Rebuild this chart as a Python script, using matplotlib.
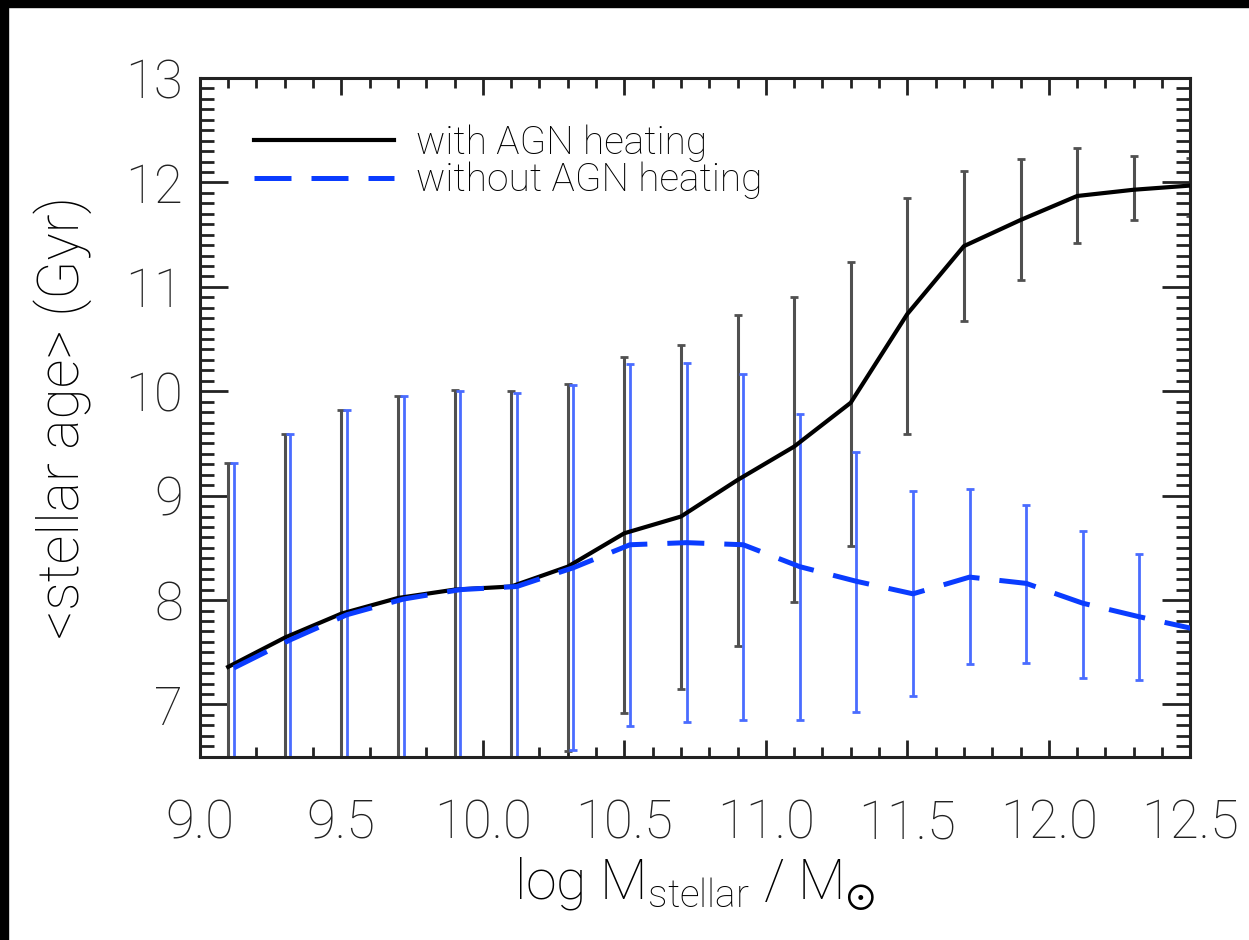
import numpy as np
import matplotlib
matplotlib.use("Agg")
import matplotlib.pyplot as plt
from matplotlib.patches import Rectangle
from matplotlib.lines import Line2D
from matplotlib.ticker import MultipleLocator, FormatStrFormatter

plt.rcParams['font.family'] = ['Roboto', 'DejaVu Sans']
plt.rcParams['font.weight'] = 'light'
plt.rcParams['axes.labelweight'] = 'light'
plt.rcParams['mathtext.default'] = 'regular'

# ---------------- data ----------------
mass_bins = np.array([9.1, 9.3, 9.5, 9.7, 9.9, 10.1, 10.3, 10.5, 10.7,
                      10.9, 11.1, 11.3, 11.5, 11.7, 11.9, 12.1, 12.3, 12.5])

# with AGN heating (black)
age_agn = np.array([7.36, 7.64, 7.87, 8.02, 8.10, 8.13, 8.32, 8.64, 8.80,
                    9.15, 9.47, 9.89, 10.74, 11.39, 11.64, 11.87, 11.93, 11.97])
agn_hi = np.array([9.31, 9.59, 9.82, 9.95, 10.01, 10.00, 10.07, 10.33, 10.44,
                   10.73, 10.90, 11.24, 11.85, 12.11, 12.22, 12.33, 12.25, 12.23])
agn_lo = np.array([5.40, 5.70, 5.90, 6.10, 6.20, 6.30, 6.55, 6.92, 7.15,
                   7.56, 7.98, 8.52, 9.59, 10.67, 11.07, 11.42, 11.64, 11.68])

# without AGN heating (blue)
age_noagn = np.array([7.35, 7.62, 7.86, 8.01, 8.10, 8.13, 8.31, 8.53, 8.55,
                      8.53, 8.32, 8.18, 8.06, 8.22, 8.16, 7.97, 7.84, 7.72])
noagn_hi = np.array([9.31, 9.59, 9.82, 9.95, 10.00, 9.98, 10.06, 10.26, 10.27,
                     10.17, 9.78, 9.42, 9.04, 9.06, 8.91, 8.66, 8.44, 8.30])
noagn_lo = np.array([5.40, 5.70, 5.90, 6.10, 6.20, 6.30, 6.56, 6.79, 6.83,
                     6.85, 6.85, 6.93, 7.08, 7.39, 7.40, 7.25, 7.23, 7.10])

legend_labels = ['with AGN heating', 'without AGN heating']

# small sideways shift so the two sets of error bars don't overlap
x_shift = 0.02

BLACK = '#000000'
BAR_GREY = '#505050'
BLUE = '#0a3cff'
BAR_BLUE = '#4a6cff'
DASHES = (0, (7.4, 4.0))

fig = plt.figure(figsize=(12.49, 9.40), dpi=100)
ax = fig.add_axes([0.160, 0.195, 0.793, 0.722])

# black frame strips seen at top / left of the original image
fig.patches.append(Rectangle((0, 1 - 7 / 940), 1, 7 / 940, transform=fig.transFigure,
                             color='black', zorder=10))
fig.patches.append(Rectangle((0, 0), 8 / 1249, 1, transform=fig.transFigure,
                             color='black', zorder=10))

# error bars first
ax.errorbar(mass_bins, age_agn, yerr=[age_agn - agn_lo, agn_hi - age_agn],
            fmt='none', ecolor=BAR_GREY, elinewidth=2.2, capsize=3.0, capthick=2.0, zorder=2)
ax.errorbar(mass_bins + x_shift, age_noagn, yerr=[age_noagn - noagn_lo, noagn_hi - age_noagn],
            fmt='none', ecolor=BAR_BLUE, elinewidth=2.0, capsize=3.0, capthick=2.0, zorder=2)

# the lines
ax.plot(mass_bins, age_agn, color=BLACK, lw=3.0, zorder=4, solid_joinstyle='round')
ax.plot(mass_bins + x_shift, age_noagn, color=BLUE, lw=3.6, ls=DASHES, zorder=5)

ax.set_xlim(9.0, 12.5)
ax.set_ylim(6.5, 13.0)

ax.xaxis.set_major_locator(MultipleLocator(0.5))
ax.xaxis.set_minor_locator(MultipleLocator(0.1))
ax.xaxis.set_major_formatter(FormatStrFormatter('%.1f'))
ax.yaxis.set_major_locator(MultipleLocator(1))
ax.yaxis.set_minor_locator(MultipleLocator(0.1))

ax.tick_params(axis='both', which='both', direction='in', top=True, right=True,
               colors='#222222', width=2.0)
ax.tick_params(axis='x', which='major', length=12, pad=30, labelsize=38)
ax.tick_params(axis='x', which='minor', length=7)
ax.tick_params(axis='y', which='major', length=20, pad=12, labelsize=38)
ax.tick_params(axis='y', which='minor', length=10)
for s in ax.spines.values():
    s.set_linewidth(2.2)
    s.set_color('#222222')

ax.set_xlabel(r'log M$_{\mathregular{stellar}}$ / M$_{\odot}$', fontsize=40,
              fontweight='light', labelpad=4)
ax.set_ylabel('<stellar age> (Gyr)', fontsize=41, fontweight='light', labelpad=24)

handles = [Line2D([], [], color=BLACK, lw=3.0),
           Line2D([], [], color=BLUE, lw=3.6, ls=DASHES)]
ax.legend(handles, legend_labels, loc='upper left', bbox_to_anchor=(0.055, 0.932),
          frameon=False, fontsize=28, handlelength=3.6, handletextpad=0.55,
          labelspacing=0.0, borderpad=0, borderaxespad=0)

fig.savefig('out.png', dpi=100, facecolor='white')
